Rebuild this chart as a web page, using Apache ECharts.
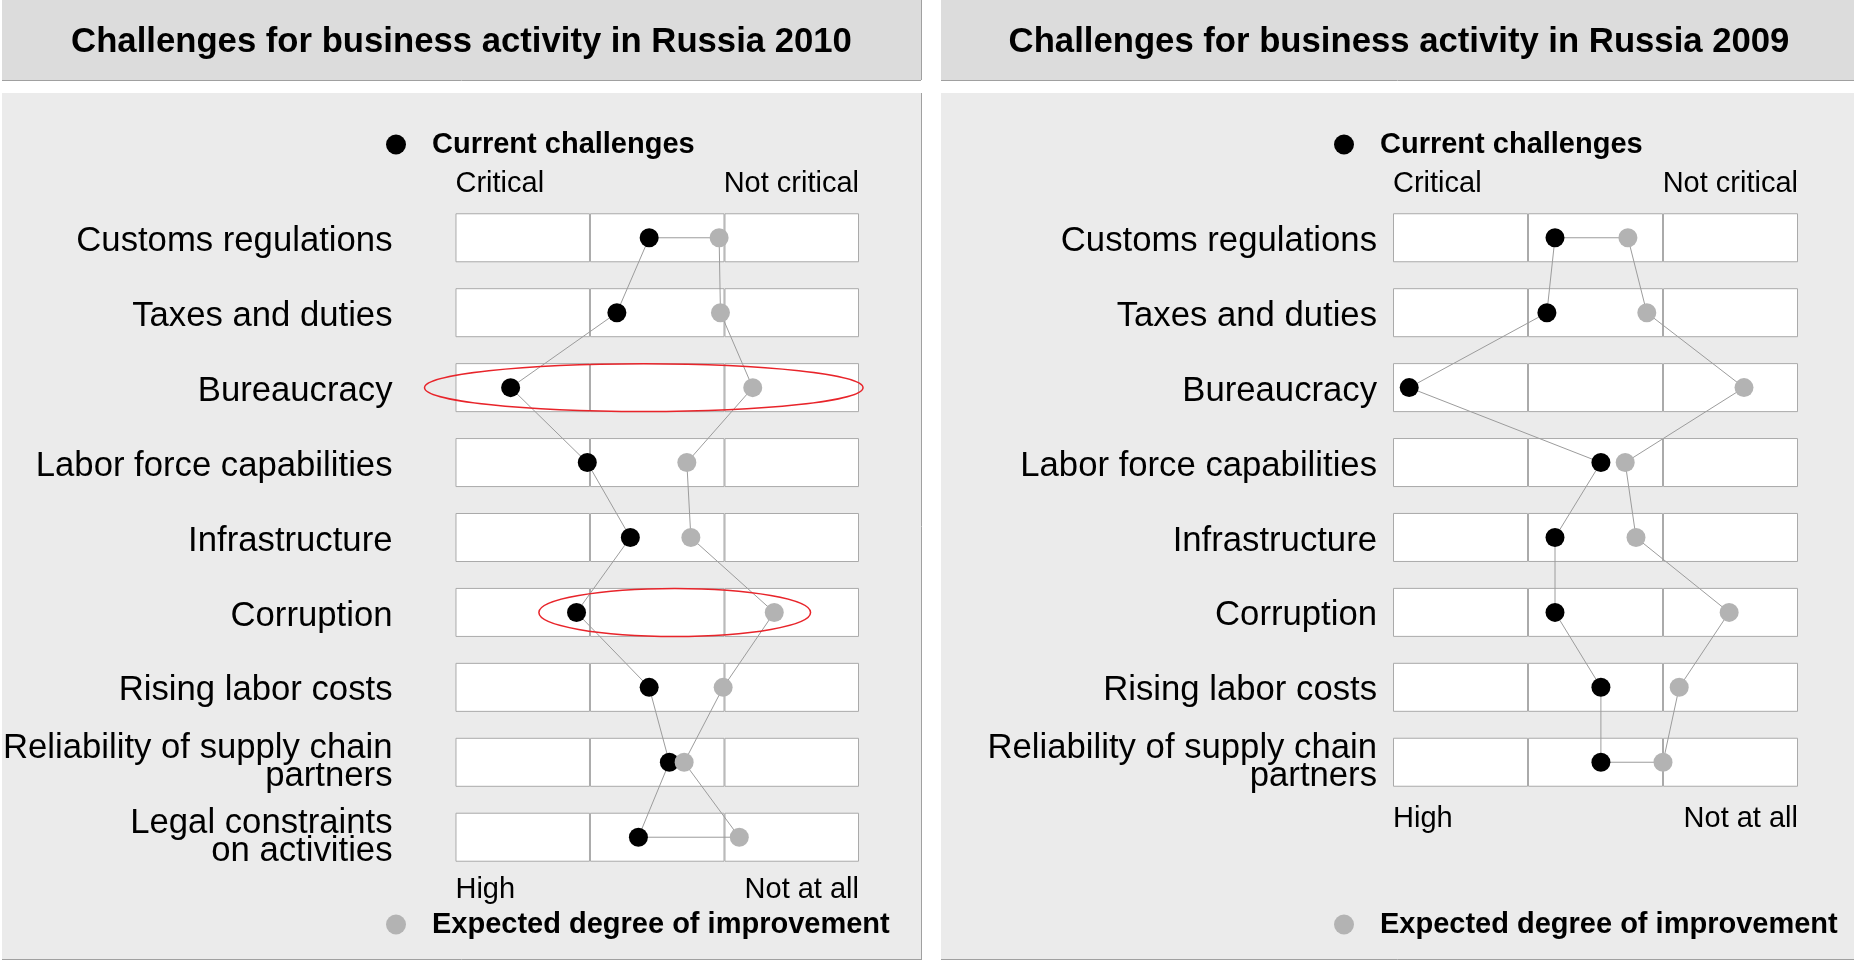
<!DOCTYPE html>
<html>
<head>
<meta charset="utf-8">
<title>Challenges for business activity in Russia</title>
<script src="https://cdn.jsdelivr.net/npm/echarts@6/dist/echarts.min.js"></script>
<style>
  html, body { margin: 0; padding: 0; background: #fff; }
  #main { width: 1854px; height: 961px; }
</style>
</head>
<body>
<div id="main"></div>
<script>
// rows of each panel, top to bottom
const rows2010 = [
  "Customs regulations",
  "Taxes and duties",
  "Bureaucracy",
  "Labor force capabilities",
  "Infrastructure",
  "Corruption",
  "Rising labor costs",
  "Reliability of supply chain\npartners",
  "Legal constraints\non activities"
];
const rows2009 = [
  "Customs regulations",
  "Taxes and duties",
  "Bureaucracy",
  "Labor force capabilities",
  "Infrastructure",
  "Corruption",
  "Rising labor costs",
  "Reliability of supply chain\npartners"
];

// position on the 0 (critical / high) .. 3 (not critical / not at all) scale
const current2010 = [1.44, 1.20, 0.41, 0.98, 1.30, 0.90, 1.44, 1.59, 1.36];
const expected2010 = [1.96, 1.97, 2.21, 1.72, 1.75, 2.37, 1.99, 1.70, 2.11];
const current2009 = [1.20, 1.14, 0.12, 1.54, 1.20, 1.20, 1.54, 1.54];
const expected2009 = [1.74, 1.88, 2.60, 1.72, 1.80, 2.49, 2.12, 2.00];

const topLabels = ["Critical", "Not critical"];
const bottomLabels = ["High", "Not at all"];
const boxSegments = [1, 1, 1]; // each row box is split in thirds

// red rings drawn on the 2010 panel (row, centre and half width in scale units)
const highlights2010 = [
  { row: 2, center: 1.40, halfWidth: 1.63 },
  { row: 5, center: 1.63, halfWidth: 1.01 }
];

const FONT = "'Liberation Sans', Arial, Helvetica, sans-serif";
const chart = echarts.init(document.getElementById("main"));

function xAxes(gi, bottomMargin) {
  const base = {
    type: "value", gridIndex: gi, min: 0, max: 3, interval: 3,
    axisLine: { show: false }, axisTick: { show: false }, splitLine: { show: false }
  };
  return [
    Object.assign({}, base, {
      position: "bottom",
      axisLabel: {
        fontFamily: FONT, fontSize: 29, color: "#000", margin: bottomMargin,
        alignMinLabel: "left", alignMaxLabel: "right",
        formatter: v => (v === 0 ? bottomLabels[0] : bottomLabels[1])
      }
    }),
    Object.assign({}, base, {
      position: "top",
      axisLabel: {
        fontFamily: FONT, fontSize: 29, color: "#000", margin: 2,
        alignMinLabel: "left", alignMaxLabel: "right",
        formatter: v => (v === 0 ? topLabels[0] : topLabels[1])
      }
    })
  ];
}

function yAxis(gi, rows, margin) {
  const txt = { fontFamily: FONT, fontSize: 34.7, color: "#000" };
  return {
    type: "category", gridIndex: gi, data: rows, inverse: true,
    axisLine: { show: false }, axisTick: { show: false }, splitLine: { show: false },
    axisLabel: Object.assign({}, txt, {
      lineHeight: 28, margin: margin,
      // single-line labels sit a little below the row centre
      formatter: v => (v.indexOf("\n") < 0 ? "{s|" + v + "}" : v),
      rich: { s: Object.assign({}, txt, { lineHeight: 34, padding: [7, 0, 0, 0] }) }
    })
  };
}

function panelSeries(gi, rows, current, expected) {
  const list = [];
  boxSegments.forEach(seg => {
    list.push({
      type: "bar", xAxisIndex: gi * 2, yAxisIndex: gi, stack: "box" + gi,
      data: rows.map(() => seg), barWidth: 49, silent: true, z: 1,
      itemStyle: { color: "#fff", borderColor: "#aaaaaa", borderWidth: 1 }
    });
  });
  // connector: down through current points, back up through expected points
  const loop = current.map((v, i) => [v, i])
    .concat(expected.map((v, i) => [v, i]).reverse())
    .concat([[current[0], 0]]);
  list.push({
    type: "line", xAxisIndex: gi * 2, yAxisIndex: gi, data: loop,
    symbol: "none", silent: true, z: 3,
    lineStyle: { color: "#9c9c9c", width: 1 }
  });
  list.push({
    name: "Current challenges", type: "scatter", xAxisIndex: gi * 2, yAxisIndex: gi,
    data: current.map((v, i) => [v, i]), symbolSize: 19, z: 5,
    itemStyle: { color: "#000", opacity: 1 }
  });
  list.push({
    name: "Expected degree of improvement", type: "scatter", xAxisIndex: gi * 2, yAxisIndex: gi,
    data: expected.map((v, i) => [v, i]), symbolSize: 19, z: 6,
    itemStyle: { color: "#b3b3b3", opacity: 1 }
  });
  return list;
}

function legend(name, left, top) {
  return {
    data: [name], left: left, top: top, icon: "circle", padding: 0,
    itemWidth: 20, itemHeight: 20, selectedMode: false,
    itemStyle: { opacity: 1 },
    textStyle: { fontFamily: FONT, fontSize: 29, fontWeight: "bold", color: "#000", padding: [0, 0, 0, 21] }
  };
}

const bgLine = "#a0a0a0";
const background = [
  { type: "rect", z: -10, shape: { x: 2, y: 0, width: 919, height: 80 }, style: { fill: "#dcdcdc" } },
  { type: "rect", z: -10, shape: { x: 941, y: 0, width: 913, height: 80 }, style: { fill: "#dcdcdc" } },
  { type: "rect", z: -10, shape: { x: 2, y: 93, width: 919, height: 867 }, style: { fill: "#ebebeb" } },
  { type: "rect", z: -10, shape: { x: 941, y: 93, width: 913, height: 867 }, style: { fill: "#ebebeb" } },
  { type: "line", z: -9, shape: { x1: 2, y1: 80.5, x2: 921, y2: 80.5 }, style: { stroke: bgLine, lineWidth: 1 } },
  { type: "line", z: -9, shape: { x1: 941, y1: 80.5, x2: 1854, y2: 80.5 }, style: { stroke: bgLine, lineWidth: 1 } },
  { type: "line", z: -9, shape: { x1: 921.5, y1: 0, x2: 921.5, y2: 80 }, style: { stroke: bgLine, lineWidth: 1 } },
  { type: "line", z: -9, shape: { x1: 921.5, y1: 93, x2: 921.5, y2: 960 }, style: { stroke: bgLine, lineWidth: 1 } },
  { type: "line", z: -9, shape: { x1: 2, y1: 959.5, x2: 921, y2: 959.5 }, style: { stroke: bgLine, lineWidth: 1 } },
  { type: "line", z: -9, shape: { x1: 941, y1: 959.5, x2: 1854, y2: 959.5 }, style: { stroke: bgLine, lineWidth: 1 } }
];

const titleStyle = { fontFamily: FONT, fontSize: 34.7, fontWeight: "bold", color: "#000" };

chart.setOption({
  animation: false,
  title: [
    { text: "Challenges for business activity in Russia 2010", left: 461.5, top: 25, padding: 0, textAlign: "center", textStyle: titleStyle },
    { text: "Challenges for business activity in Russia 2009", left: 1399, top: 25, padding: 0, textAlign: "center", textStyle: titleStyle }
  ],
  legend: [
    legend("Current challenges", 386, 130),
    legend("Expected degree of improvement", 386, 910),
    legend("Current challenges", 1334, 130),
    legend("Expected degree of improvement", 1334, 910)
  ],
  grid: [
    { left: 454, top: 200.3, width: 405, height: 674.4 },
    { left: 1393, top: 200.3, width: 405, height: 599.4 }
  ],
  xAxis: xAxes(0, 0.5).concat(xAxes(1, 5)),
  yAxis: [yAxis(0, rows2010, 63), yAxis(1, rows2009, 16)],
  series: panelSeries(0, rows2010, current2010, expected2010)
    .concat(panelSeries(1, rows2009, current2009, expected2009)),
  graphic: background
});

// red rings, placed through the 2010 panel's own scales
const ringSeries = 4; // "Current challenges" of the 2010 panel
const rings = highlights2010.map((h, k) => {
  const c = chart.convertToPixel({ seriesIndex: ringSeries }, [h.center, h.row]);
  const e = chart.convertToPixel({ seriesIndex: ringSeries }, [h.center + h.halfWidth, h.row + 1]);
  return {
    type: "ellipse", id: "ring" + k, z: 4,
    shape: { cx: c[0], cy: c[1], rx: e[0] - c[0], ry: (e[1] - c[1]) * 0.32 },
    style: { fill: "none", stroke: "#e8242a", lineWidth: 1.5 }
  };
});
chart.setOption({ graphic: background.concat(rings) });
</script>
</body>
</html>
